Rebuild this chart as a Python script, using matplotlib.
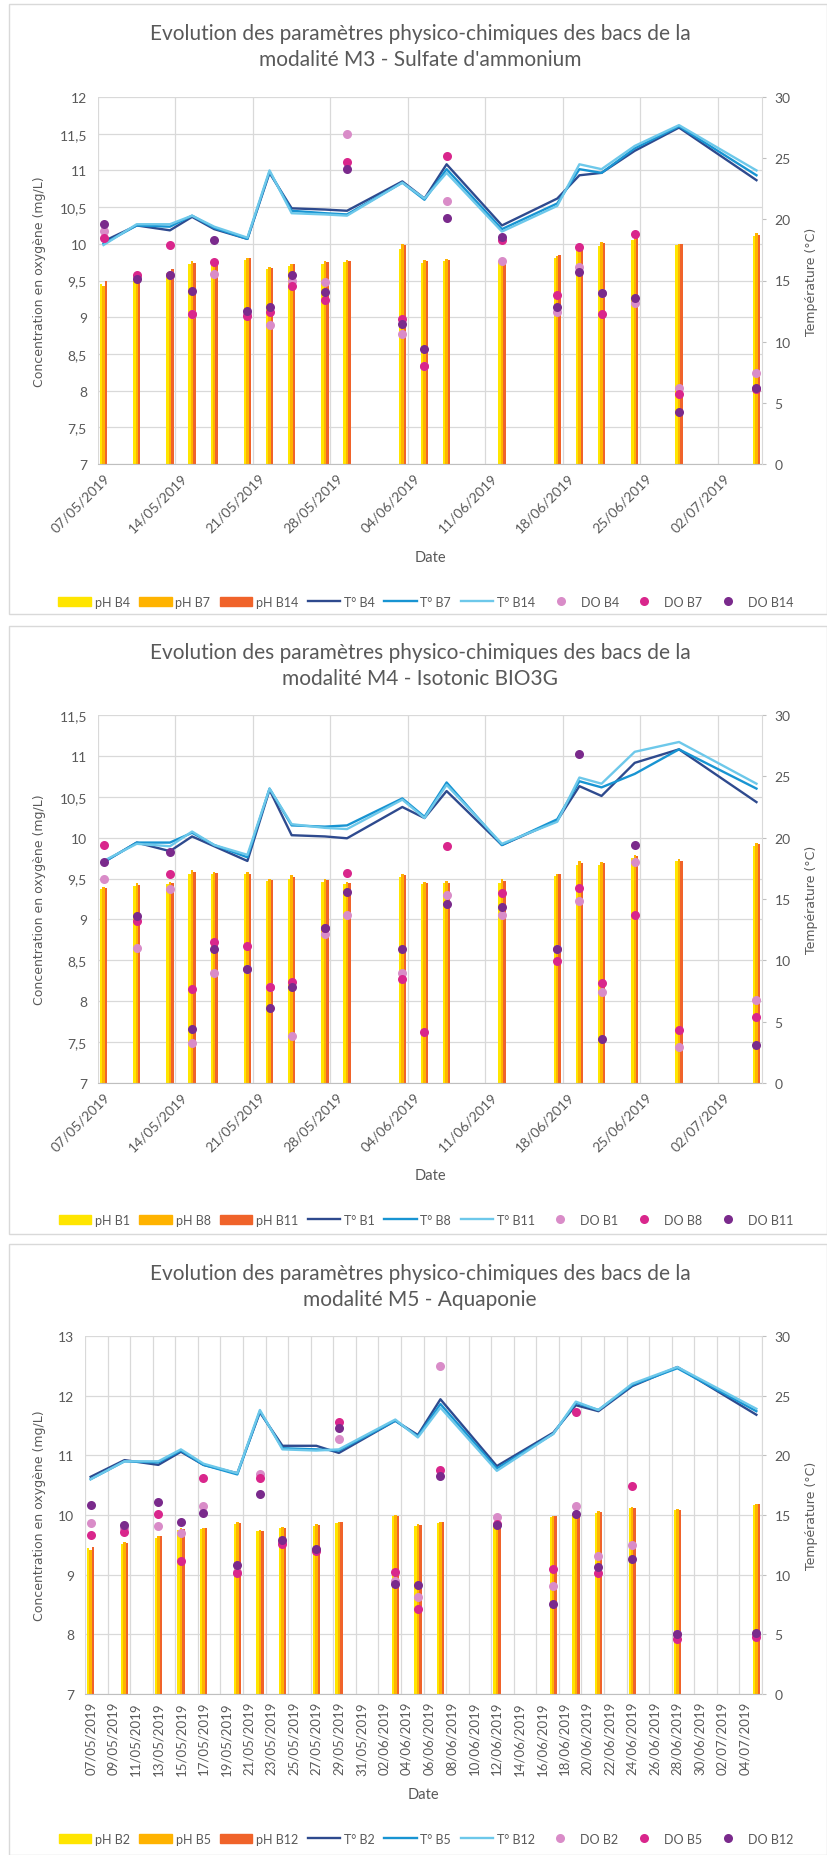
import numpy as np
import pandas as pd
import matplotlib
matplotlib.use('Agg')
import matplotlib.pyplot as plt
from matplotlib.patches import Rectangle, Patch
from matplotlib.lines import Line2D
from matplotlib.ticker import FuncFormatter, MultipleLocator

plt.rcParams['font.family'] = ['Lato', 'DejaVu Sans']

# dates de mesure (communes aux trois modalités)
dates = ['07/05/2019', '10/05/2019', '13/05/2019', '15/05/2019', '17/05/2019',
         '20/05/2019', '22/05/2019', '24/05/2019', '27/05/2019', '29/05/2019',
         '03/06/2019', '05/06/2019', '07/06/2019', '12/06/2019', '17/06/2019',
         '19/06/2019', '21/06/2019', '24/06/2019', '28/06/2019', '05/07/2019']

# --- M3 - Sulfate d'ammonium ---
ph_b4 = [9.45, 9.50, 9.60, 9.72, 9.75, 9.78, 9.66, 9.70, 9.72, 9.75, 9.93, 9.74, 9.76, 9.75, 9.80, 9.93, 9.97, 10.05, 9.98, 10.10]
ph_b7 = [9.42, 9.52, 9.63, 9.76, 9.77, 9.80, 9.68, 9.73, 9.76, 9.78, 10.00, 9.78, 9.79, 9.78, 9.83, 9.96, 10.02, 10.10, 10.00, 10.15]
ph_b14 = [9.50, 9.54, 9.65, 9.74, 9.78, 9.80, 9.67, 9.72, 9.75, 9.77, 9.99, 9.77, 9.78, 9.76, 9.85, 9.97, 10.01, 10.08, 10.00, 10.12]
t_b4 = [18.2, 19.5, 19.1, 20.2, 19.2, 18.4, 23.8, 20.9, 20.8, 20.7, 23.1, 21.7, 24.5, 19.5, 21.7, 23.6, 23.8, 25.6, 27.5, 23.2]
t_b7 = [18.0, 19.5, 19.4, 20.3, 19.3, 18.4, 23.9, 20.7, 20.5, 20.4, 23.0, 21.6, 24.1, 19.2, 21.3, 24.1, 23.8, 25.8, 27.6, 23.6]
t_b14 = [17.9, 19.6, 19.6, 20.3, 19.4, 18.5, 24.0, 20.5, 20.4, 20.3, 23.0, 21.7, 23.8, 19.0, 21.1, 24.5, 24.1, 26.0, 27.7, 24.0]
do_b4 = [10.17, 9.55, 9.58, 9.05, 9.59, 9.05, 8.89, 9.50, 9.48, 11.50, 8.77, 8.34, 10.58, 9.77, 9.07, 9.68, 9.33, 9.20, 8.03, 8.24]
do_b7 = [10.08, 9.57, 9.98, 9.05, 9.75, 9.02, 9.07, 9.43, 9.24, 11.11, 8.98, 8.34, 11.20, 10.05, 9.30, 9.95, 9.05, 10.14, 7.96, 8.02]
do_b14 = [10.27, 9.52, 9.58, 9.36, 10.05, 9.09, 9.14, 9.57, 9.34, 11.02, 8.91, 8.56, 10.35, 10.09, 9.14, 9.62, 9.33, 9.26, 7.71, 8.03]

# --- M4 - Isotonic BIO3G ---
ph_b1 = [9.37, 9.41, 9.43, 9.56, 9.55, 9.55, 9.47, 9.50, 9.46, 9.43, 9.52, 9.43, 9.44, 9.45, 9.53, 9.66, 9.67, 9.75, 9.71, 9.90]
ph_b8 = [9.40, 9.44, 9.46, 9.60, 9.58, 9.58, 9.50, 9.54, 9.49, 9.46, 9.56, 9.46, 9.47, 9.49, 9.56, 9.71, 9.70, 9.79, 9.74, 9.93]
ph_b11 = [9.38, 9.42, 9.45, 9.58, 9.57, 9.56, 9.48, 9.52, 9.48, 9.45, 9.54, 9.45, 9.45, 9.47, 9.55, 9.69, 9.69, 9.77, 9.72, 9.92]
t_b1 = [18.0, 19.6, 18.9, 20.1, 19.3, 18.1, 23.9, 20.2, 20.1, 19.95, 22.5, 21.6, 23.8, 19.4, 21.4, 24.2, 23.4, 26.1, 27.2, 22.9]
t_b8 = [18.0, 19.6, 19.6, 20.4, 19.4, 18.4, 24.0, 21.0, 20.9, 21.0, 23.2, 21.7, 24.5, 19.4, 21.5, 24.6, 24.1, 25.2, 27.2, 24.0]
t_b11 = [18.1, 19.5, 19.3, 20.5, 19.4, 18.6, 24.0, 21.1, 20.8, 20.7, 23.1, 21.6, 24.3, 19.5, 21.3, 24.9, 24.4, 27.0, 27.8, 24.4]
do_b1 = [9.50, 8.65, 9.37, 7.49, 8.34, 8.39, 8.17, 7.57, 8.82, 9.06, 8.35, np.nan, 9.30, 9.06, 8.64, 9.23, 8.11, 9.70, 7.44, 8.02]
do_b8 = [9.91, 8.98, 9.55, 8.15, 8.72, 8.68, 8.17, 8.24, 8.90, 9.57, 8.27, 7.62, 9.90, 9.32, 8.49, 9.38, 8.22, 9.06, 7.65, 7.81]
do_b11 = [9.70, 9.04, 9.83, 7.66, 8.64, 8.39, 7.92, 8.18, 8.90, 9.34, 8.64, np.nan, 9.19, 9.15, 8.64, 11.02, 7.54, 9.91, np.nan, 7.46]

# --- M5 - Aquaponie ---
ph_b2 = [9.44, 9.52, 9.62, 9.75, 9.76, 9.85, 9.73, 9.78, 9.82, 9.86, 9.98, 9.82, 9.87, 9.84, 9.96, 10.02, 10.03, 10.11, 10.08, 10.16]
ph_b5 = [9.42, 9.55, 9.65, 9.78, 9.79, 9.88, 9.75, 9.80, 9.85, 9.89, 10.00, 9.85, 9.89, 9.86, 9.99, 10.06, 10.06, 10.13, 10.10, 10.19]
ph_b12 = [9.47, 9.53, 9.64, 9.76, 9.78, 9.87, 9.74, 9.79, 9.84, 9.88, 9.99, 9.83, 9.88, 9.85, 9.98, 10.04, 10.05, 10.12, 10.09, 10.18]
t_b2 = [18.2, 19.6, 19.2, 20.3, 19.2, 18.5, 23.6, 20.8, 20.8, 20.2, 22.9, 21.7, 24.7, 19.1, 21.9, 24.2, 23.7, 25.8, 27.4, 23.4]
t_b5 = [18.0, 19.5, 19.4, 20.4, 19.2, 18.4, 23.7, 20.6, 20.5, 20.4, 22.9, 21.6, 24.3, 18.9, 21.8, 24.4, 23.8, 25.9, 27.3, 23.7]
t_b12 = [18.0, 19.5, 19.5, 20.5, 19.3, 18.5, 23.8, 20.5, 20.4, 20.5, 23.0, 21.5, 24.0, 18.7, 21.8, 24.5, 23.8, 26.0, 27.4, 23.9]
do_b2 = [9.87, 9.78, 9.82, 9.70, 10.15, 9.05, 10.68, 9.55, 9.42, 11.27, 8.90, 8.62, 12.50, 9.96, 8.81, 10.15, 9.31, 9.49, 8.00, 8.00]
do_b5 = [9.66, 9.72, 10.02, 9.23, 10.62, 9.03, 10.62, 9.51, 9.40, 11.56, 9.04, 8.43, 10.76, 9.85, 9.09, 11.72, 9.02, 10.49, 7.92, 7.95]
do_b12 = [10.17, 9.83, 10.21, 9.89, 10.03, 9.16, 10.36, 9.58, 9.43, 11.46, 8.85, 8.82, 10.66, 9.83, 8.51, 10.01, 9.13, 9.27, 8.00, 8.03]

W, H = 827, 1856
start = pd.Timestamp('2019-05-07')
days = (pd.to_datetime(dates, dayfirst=True) - start).days.values + 0.5

ph_colors = ['#FFE500', '#FFB300', '#F0632A']
t_colors = ['#2E4A8E', '#1894D2', '#6DC8EA']
do_colors = ['#D98CC8', '#D9268C', '#7A2A8C']
grey = '#595959'
grid_c = '#D9D9D9'


def fx(x):
    return x / W


def fy(y):
    return 1 - y / H


def comma(v, pos):
    return ('%g' % v).replace('.', ',')


fig = plt.figure(figsize=(W / 100, H / 100), dpi=100)

panels = [
    dict(title="Evolution des paramètres physico-chimiques des bacs de la\nmodalité M3 - Sulfate d'ammonium",
         bacs=['B4', 'B7', 'B14'], ph=[ph_b4, ph_b7, ph_b14], t=[t_b4, t_b7, t_b14], do=[do_b4, do_b7, do_b14],
         ylim=(7, 12), ystep=0.5, box=(5, 615), plot=(98, 762, 98, 465), weekly=True,
         title_y=47, date_y=558, leg_y=603),
    dict(title="Evolution des paramètres physico-chimiques des bacs de la\nmodalité M4 - Isotonic BIO3G",
         bacs=['B1', 'B8', 'B11'], ph=[ph_b1, ph_b8, ph_b11], t=[t_b1, t_b8, t_b11], do=[do_b1, do_b8, do_b11],
         ylim=(7, 11.5), ystep=0.5, box=(627, 1235), plot=(98, 762, 716, 1084), weekly=True,
         title_y=666, date_y=1176, leg_y=1221),
    dict(title="Evolution des paramètres physico-chimiques des bacs de la\nmodalité M5 - Aquaponie",
         bacs=['B2', 'B5', 'B12'], ph=[ph_b2, ph_b5, ph_b12], t=[t_b2, t_b5, t_b12], do=[do_b2, do_b5, do_b12],
         ylim=(7, 13), ystep=1, box=(1245, 1856), plot=(85, 762, 1337, 1695), weekly=False,
         title_y=1287, date_y=1795, leg_y=1840),
]

bw = 0.22
for p in panels:
    l, r, t, b = p['plot']
    # cadre du graphique
    fig.patches.append(Rectangle((fx(9), fy(p['box'][1])), fx(827) - fx(9), (p['box'][1] - p['box'][0]) / H,
                                 transform=fig.transFigure, fill=False, edgecolor=grid_c, lw=1.0))
    ax = fig.add_axes([fx(l), fy(b), fx(r) - fx(l), (b - t) / H])
    for i in range(3):
        ax.bar(days + (i - 1) * bw, p['ph'][i], width=bw, color=ph_colors[i], zorder=2)
    ax.set_xlim(0, 60)
    ax.set_ylim(*p['ylim'])
    ax.yaxis.set_major_locator(MultipleLocator(p['ystep']))
    ax.yaxis.set_major_formatter(FuncFormatter(comma))
    ax.grid(axis='y', color=grid_c, lw=0.9)
    ax.set_axisbelow(True)
    if p['weekly']:
        grid_days = np.arange(0, 57, 7)
        lab_days = np.arange(0, 57, 7)
        ax.set_xticks(lab_days + 0.5)
        ax.set_xticklabels([(start + pd.Timedelta(days=int(d))).strftime('%d/%m/%Y') for d in lab_days],
                           rotation=45, ha='right', rotation_mode='anchor', fontsize=10, color=grey)
    else:
        grid_days = np.arange(0, 61, 2)
        lab_days = np.arange(0, 59, 2)
        ax.set_xticks(lab_days + 0.5)
        ax.set_xticklabels([(start + pd.Timedelta(days=int(d))).strftime('%d/%m/%Y') for d in lab_days],
                           rotation=90, ha='center', va='top', fontsize=9.5, color=grey)
    ax.set_xticks(grid_days, minor=True)
    ax.grid(axis='x', which='minor', color=grid_c, lw=0.9)
    ax.tick_params(axis='x', which='both', length=0, pad=5)
    ax.tick_params(axis='y', length=0, labelsize=10, labelcolor=grey, pad=8)
    for s in ['top', 'left', 'right']:
        ax.spines[s].set_visible(False)
    ax.spines['bottom'].set_color('#BFBFBF')

    ax2 = ax.twinx()
    for i in range(3):
        ax2.plot(days, p['t'][i], color=t_colors[i], lw=1.7, zorder=3)
    ax2.set_ylim(0, 30)
    ax2.yaxis.set_major_locator(MultipleLocator(5))
    ax2.tick_params(axis='y', length=3, color='#BFBFBF', labelsize=10, labelcolor=grey, pad=6)
    for s in ['top', 'left', 'bottom']:
        ax2.spines[s].set_visible(False)
    ax2.spines['right'].set_color(grid_c)

    ax3 = fig.add_axes(ax.get_position(), sharex=ax, sharey=ax)
    ax3.set_axis_off()
    for i in range(3):
        ax3.plot(days, p['do'][i], 'o', color=do_colors[i], ms=6.5, mew=0)
    ax3.set_xlim(0, 60)
    ax3.set_ylim(*p['ylim'])

    fig.text(fx(420), fy(p['title_y']), p['title'], ha='center', va='center', fontsize=15,
             color=grey, linespacing=1.4)
    fig.text(fx(40), fy((t + b) / 2), 'Concentration en oxygène (mg/L)', rotation=90, ha='center',
             va='center', fontsize=9, color=grey, family='DejaVu Sans')
    fig.text(fx(812), fy((t + b) / 2), 'Température (°C)', rotation=90, ha='center',
             va='center', fontsize=9, color=grey, family='DejaVu Sans')
    fig.text(fx((l + r) / 2), fy(p['date_y']), 'Date', ha='center', va='center', fontsize=10.5, color=grey)

    handles = [Patch(color=c) for c in ph_colors]
    handles += [Line2D([], [], color=c, lw=1.7) for c in t_colors]
    handles += [Line2D([], [], color=c, marker='o', ls='none', ms=6.5, mew=0) for c in do_colors]
    labels = ['pH ' + s for s in p['bacs']] + ['T° ' + s for s in p['bacs']] + ['DO ' + s for s in p['bacs']]
    fig.legend(handles, labels, loc='center', bbox_to_anchor=(fx(426), fy(p['leg_y'])), ncol=9,
               frameon=False, fontsize=9, handlelength=2.6, handleheight=0.8, handletextpad=0.3,
               columnspacing=0.75, labelcolor=grey)

fig.savefig('out.png', dpi=100)
